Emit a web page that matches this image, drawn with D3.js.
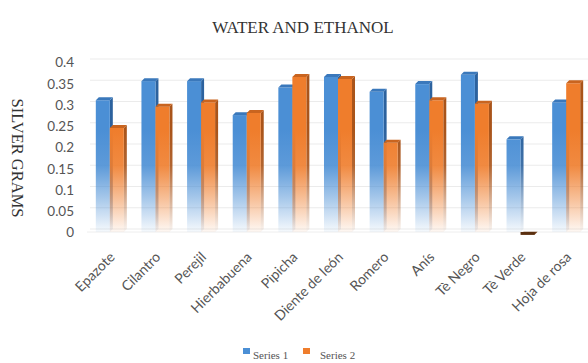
<!DOCTYPE html>
<html>
<head>
<meta charset="utf-8">
<script src="https://cdn.jsdelivr.net/npm/d3@7"></script>
<style>
  html, body { margin: 0; padding: 0; background: #fff; }
  svg { display: block; }
</style>
</head>
<body>
<svg id="chart" width="588" height="363"></svg>
<script>
// Silver recovered per herb extract, two extraction series
const categories = ["Epazote", "Cilantro", "Perejil", "Hierbabuena", "Pipicha", "Diente de león",
                    "Romero", "Anís", "Tè Negro", "Tè Verde", "Hoja de rosa"];
const series1 = [0.31, 0.355, 0.355, 0.275, 0.34, 0.365, 0.33, 0.348, 0.37, 0.218, 0.305];
const series2 = [0.245, 0.295, 0.305, 0.28, 0.365, 0.36, 0.21, 0.31, 0.302, -0.004, 0.35];
const seriesNames = ["Series 1", "Series 2"];
const yTicks = [0, 0.05, 0.1, 0.15, 0.2, 0.25, 0.3, 0.35, 0.4];

const W = 588, H = 363;
const plotLeft = 87, plotRight = 589, plotTop = 62, plotBottom = 232;
const depth = 3;

const svg = d3.select("#chart");

const x = d3.scaleBand().domain(categories).range([plotLeft, plotRight])
  .paddingInner(0.386).paddingOuter(0.193);
const xs = d3.scaleBand().domain(seriesNames).range([0, x.bandwidth()]).padding(0);
const y = d3.scaleLinear().domain([0, 0.4]).range([plotBottom, plotTop]);

const palette = {
  "Series 1": { face: "#4b8fd5", side: "#2c629e", cap: "#3a78bb" },
  "Series 2": { face: "#ef7d2c", side: "#a9541a", cap: "#c9641f" }
};

// Fading fills: solid near the upper part of the plot, washing out toward the floor
const defs = svg.append("defs");
seriesNames.forEach((s, i) => {
  ["face", "side"].forEach(part => {
    const g = defs.append("linearGradient")
      .attr("id", `g-${i}-${part}`)
      .attr("gradientUnits", "userSpaceOnUse")
      .attr("x1", 0).attr("x2", 0)
      .attr("y1", y(0.24)).attr("y2", y(0));
    g.append("stop").attr("offset", 0).attr("stop-color", palette[s][part]).attr("stop-opacity", 1);
    g.append("stop").attr("offset", 0.35).attr("stop-color", palette[s][part]).attr("stop-opacity", 0.9);
    g.append("stop").attr("offset", 0.7).attr("stop-color", palette[s][part]).attr("stop-opacity", 0.45);
    g.append("stop").attr("offset", 1).attr("stop-color", palette[s][part]).attr("stop-opacity", 0.05);
  });
});

// Back-wall gridlines
svg.append("g")
  .selectAll("line")
  .data(yTicks)
  .join("line")
  .attr("x1", plotLeft + depth).attr("x2", W)
  .attr("y1", d => y(d) - depth).attr("y2", d => y(d) - depth)
  .attr("stroke", "#ebebeb").attr("stroke-width", 1);

// Floor edge
svg.append("line")
  .attr("x1", plotLeft).attr("x2", W)
  .attr("y1", y(0)).attr("y2", y(0))
  .attr("stroke", "#eeeeee").attr("stroke-width", 1);

// Y axis tick labels
const yAxis = d3.axisLeft(y).tickValues(yTicks).tickFormat(d => String(+d.toFixed(2))).tickSize(0).tickPadding(0);
const yg = svg.append("g").attr("transform", `translate(74,0)`).call(yAxis);
yg.select(".domain").remove();
yg.selectAll("text")
  .attr("font-family", "Lato, 'Open Sans', sans-serif")
  .attr("font-size", 13.5)
  .attr("fill", "#555")
  .attr("dy", "0.36em");

// Bars with a simple 3D extrusion: front face, right side, top cap
const rows = [];
categories.forEach((c, i) => {
  rows.push({ cat: c, s: "Series 1", si: 0, v: series1[i] });
  rows.push({ cat: c, s: "Series 2", si: 1, v: series2[i] });
});
// Series 1 first so series 2 fronts overlap its side faces
rows.sort((a, b) => a.si - b.si || categories.indexOf(a.cat) - categories.indexOf(b.cat));
const bars = svg.append("g").selectAll("g.bar")
  .data(rows)
  .join("g").attr("class", "bar");

bars.each(function(d) {
  const g = d3.select(this);
  const x0 = x(d.cat) + xs(d.s);
  const w = xs.bandwidth();
  const yt = y(Math.max(d.v, 0));
  const yb = y(Math.min(d.v, 0));
  const col = palette[d.s];
  if (d.v < 0) {
    // Small negative value: a thin dark slab just under the floor
    g.append("path")
      .attr("d", `M${x0},${yb + 1} L${x0 + w},${yb + 1} L${x0 + w + depth},${yb - depth + 1} L${x0 + depth},${yb - depth + 1} Z`)
      .attr("fill", "#6b3a17");
    g.append("rect").attr("x", x0).attr("y", yt).attr("width", w).attr("height", Math.max(1, yb - yt + 1))
      .attr("fill", "#5a3010");
    return;
  }
  // side
  g.append("path")
    .attr("d", `M${x0 + w},${yt} L${x0 + w + depth},${yt - depth} L${x0 + w + depth},${yb - depth} L${x0 + w},${yb} Z`)
    .attr("fill", `url(#g-${d.si}-side)`);
  // front
  g.append("rect")
    .attr("x", x0).attr("y", yt).attr("width", w).attr("height", yb - yt)
    .attr("fill", `url(#g-${d.si}-face)`);
  // top cap
  g.append("path")
    .attr("d", `M${x0},${yt} L${x0 + depth},${yt - depth} L${x0 + w + depth},${yt - depth} L${x0 + w},${yt} Z`)
    .attr("fill", col.cap);
});

// X axis category labels, rotated, ending under each group centre
const xAxis = d3.axisBottom(x).tickSize(0).tickPadding(0);
const xg = svg.append("g").attr("transform", `translate(0,${plotBottom})`).call(xAxis);
xg.select(".domain").remove();
xg.selectAll("text")
  .attr("font-family", "Lato, 'Open Sans', sans-serif")
  .attr("font-size", 14)
  .attr("fill", "#555")
  .attr("text-anchor", "end")
  .attr("dy", null)
  .attr("y", null)
  .attr("transform", "translate(6,26) rotate(-45)");

// Title
svg.append("text")
  .attr("x", 303).attr("y", 33)
  .attr("text-anchor", "middle")
  .attr("font-family", "'Liberation Serif', 'DejaVu Serif', serif")
  .attr("font-size", 17)
  .attr("fill", "#333")
  .text("WATER AND ETHANOL");

// Y axis title
svg.append("text")
  .attr("transform", `translate(12,${(plotTop + plotBottom) / 2 + 11}) rotate(90)`)
  .attr("text-anchor", "middle")
  .attr("font-family", "'Liberation Serif', 'DejaVu Serif', serif")
  .attr("font-size", 16.5)
  .attr("fill", "#333")
  .text("SILVER GRAMS");

// Legend
const legendX = [243, 303];
const lg = svg.append("g").selectAll("g").data(seriesNames).join("g")
  .attr("transform", (d, i) => `translate(${legendX[i]},348)`);
lg.append("rect").attr("width", 7).attr("height", 6).attr("fill", d => palette[d].face);
lg.append("text")
  .attr("x", (d, i) => i === 0 ? 10 : 17).attr("y", 11)
  .attr("font-family", "'Liberation Serif', 'DejaVu Serif', serif")
  .attr("font-size", 11)
  .attr("fill", "#555")
  .text(d => d);
</script>
</body>
</html>
